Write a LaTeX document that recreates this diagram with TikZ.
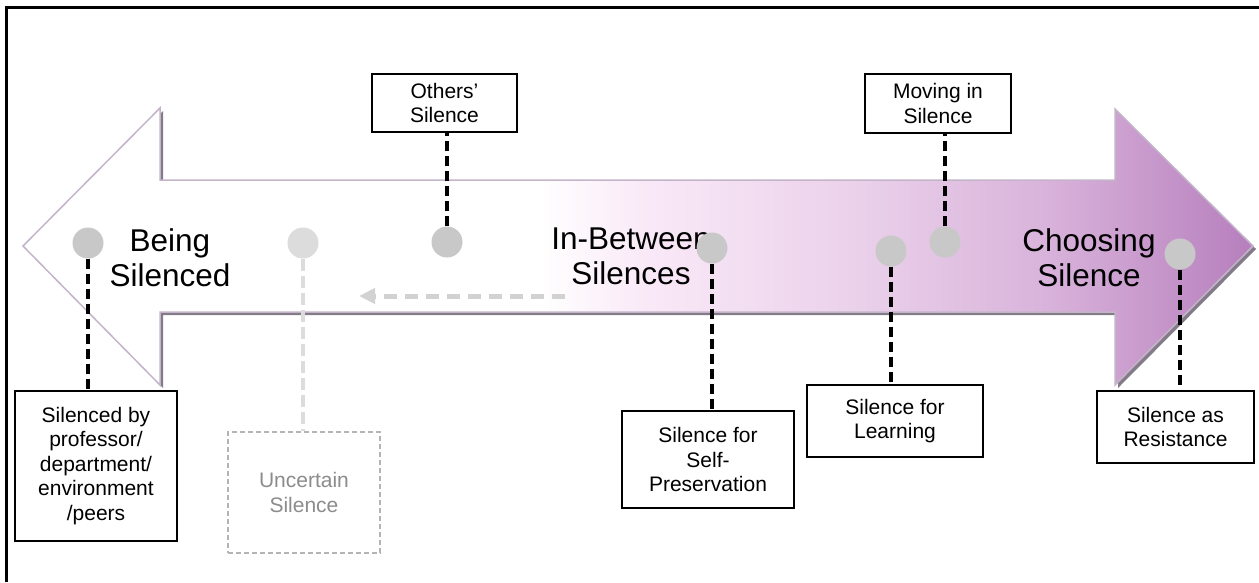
\documentclass[tikz,border=0pt]{standalone}
\usepackage{fontspec}
\setmainfont{Liberation Sans}
\usetikzlibrary{arrows.meta}
\definecolor{dotgray}{HTML}{C8C8C8}
\definecolor{dotlight}{HTML}{DCDCDC}
\definecolor{arrowgray}{HTML}{D2D2D2}
\definecolor{uncgray}{HTML}{B4B4B4}
\definecolor{unctext}{HTML}{8C8C8C}
\definecolor{outl}{HTML}{C4B4CA}
\definecolor{shadowc}{HTML}{5A5060}
\definecolor{cA}{HTML}{F9E8F7}
\definecolor{cB}{HTML}{EBD2EB}
\definecolor{cC}{HTML}{D8B2DA}
\definecolor{cD}{HTML}{B57DBC}
\begin{document}
\begin{tikzpicture}[x=1pt,y=-1pt,
  box/.style={draw=black, line width=2pt, fill=white, align=center,
    font=\fontsize{21}{24.5}\selectfont, inner sep=0pt},
  ubox/.style={draw=uncgray, line width=2pt, dash pattern=on 5pt off 3pt, fill=white,
    align=center, text=unctext, font=\fontsize{21}{24.5}\selectfont, inner sep=0pt},
  dot/.style={circle, fill=dotgray, minimum size=31pt, inner sep=0pt},
  link/.style={draw=black, line width=4.5pt, dash pattern=on 10pt off 5pt},
  ulink/.style={draw=dotlight, line width=4.5pt, dash pattern=on 12pt off 5pt},
  big/.style={align=center, font=\fontsize{31.5}{35}\selectfont}]
\useasboundingbox (0,0) rectangle (1259,582);
% frame
\draw[line width=3.3pt] (6.7,582) -- (6.7,7.7) -- (1259,7.7);
% arrow shadow
\fill[shadowc, opacity=0.75] (26,249) -- (163,111) -- (163,183) -- (1118,183) -- (1118,112)
  -- (1256,249) -- (1118,388) -- (1118,315) -- (163,315) -- (163,388) -- cycle;
% arrow body
\begin{scope}
\clip (23,246) -- (160,108) -- (160,180) -- (1115,180) -- (1115,109)
  -- (1253,246) -- (1115,385) -- (1115,312) -- (160,312) -- (160,385) -- cycle;
\fill[white] (20,100) rectangle (541,400);
\shade[left color=white, right color=cA] (540,100) rectangle (651,400);
\shade[left color=cA, right color=cB] (650,100) rectangle (851,400);
\shade[left color=cB, right color=cC] (850,100) rectangle (1051,400);
\shade[left color=cC, right color=cD] (1050,100) rectangle (1260,400);
\end{scope}
\draw[outl, line width=1.5pt, line join=miter] (23,246) -- (160,108) -- (160,180) -- (1115,180) -- (1115,109)
  -- (1253,246) -- (1115,385) -- (1115,312) -- (160,312) -- (160,385) -- cycle;
% big labels
\node[big] (being) at (170,258) {Being\\Silenced};
\node[big] (between) at (631,256) {In-Between\\Silences};
\node[big] (choosing) at (1089,258) {Choosing\\Silence};
% grey dashed arrow
\coordinate (ga) at (565,296);
\coordinate (gb) at (359,296);
\draw[arrowgray, line width=5pt, dash pattern=on 13pt off 8pt,
  -{Triangle[length=16pt,width=15pt]}] (ga) -- (gb);
% boxes
\node[box, minimum width=162pt, minimum height=150pt] (b1) at (96,466)
  {Silenced by\\professor/\\department/\\environment\\/peers};
\node[ubox, minimum width=152pt, minimum height=121pt] (b2) at (304,492.5)
  {Uncertain\\Silence};
\node[box, minimum width=145pt, minimum height=58pt] (b3) at (444.5,103)
  {Others'\\Silence};
\node[box, minimum width=146pt, minimum height=59pt] (b4) at (938,103.5)
  {Moving in\\Silence};
\node[box, minimum width=172pt, minimum height=97pt] (b5) at (708,459.5)
  {Silence for\\Self-\\Preservation};
\node[box, minimum width=176pt, minimum height=72pt] (b6) at (895,421)
  {Silence for\\Learning};
\node[box, minimum width=157pt, minimum height=72pt] (b7) at (1175.5,427)
  {Silence as\\Resistance};
% dots
\node[dot] (d1) at (88,243) {};
\node[dot, fill=dotlight] (d2) at (303,243) {};
\node[dot] (d3) at (447,242) {};
\node[dot] (d4) at (712,248) {};
\node[dot] (d5) at (891,251) {};
\node[dot] (d6) at (945,242) {};
\node[dot] (d7) at (1180,254) {};
% connectors
\draw[link] (d1.south) -- (d1.south |- b1.north);
\draw[ulink] (d2.south) -- (d2.south |- b2.north);
\draw[link] (d3.north) -- (d3.north |- b3.south);
\draw[link] (d4.south) -- (d4.south |- b5.north);
\draw[link] (d5.south) -- (d5.south |- b6.north);
\draw[link] (d6.north) -- (d6.north |- b4.south);
\draw[link] (d7.south) -- (d7.south |- b7.north);
\end{tikzpicture}
\end{document}
